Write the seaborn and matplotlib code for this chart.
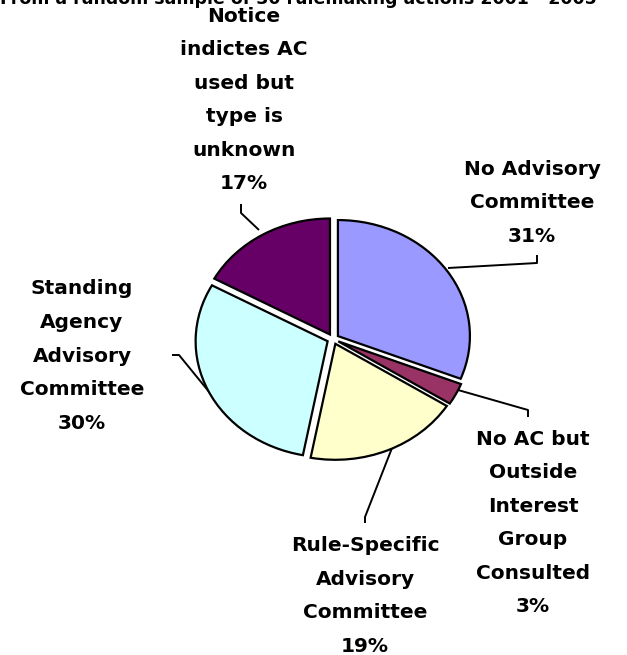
import matplotlib
matplotlib.use("Agg")
import matplotlib.pyplot as plt
import seaborn as sns

sns.set_theme(style="white")
plt.rcParams["font.family"] = ["DejaVu Sans"]

# ---- data ----
categories = [
    "No Advisory\nCommittee",
    "No AC but\nOutside\nInterest\nGroup\nConsulted",
    "Rule-Specific\nAdvisory\nCommittee",
    "Standing\nAgency\nAdvisory\nCommittee",
    "Notice\nindictes AC\nused but\ntype is\nunknown",
]
shares = [31, 3, 19, 30, 17]
colors = ["#9999FF", "#993366", "#FFFFCC", "#CCFFFF", "#660066"]
title = "From a random sample of 30 rulemaking actions 2001 - 2005"

W, H = 627, 655
fig = plt.figure(figsize=(W / 100, H / 100), dpi=100)
fig.patch.set_facecolor("white")

# overlay axes in pixel coordinates for labels / leader lines
ov = fig.add_axes([0, 0, 1, 1])
ov.set_xlim(0, W)
ov.set_ylim(H, 0)
ov.axis("off")

# pie axes (elliptical)
cx, cy, rx, ry = 333, 339, 132, 116
pax = fig.add_axes([(cx - rx) / W, (H - cy - ry) / H, 2 * rx / W, 2 * ry / H])
wedges, _ = pax.pie(
    shares,
    colors=colors,
    startangle=90,
    counterclock=False,
    explode=[0.045] * len(shares),
    radius=1.0,
    wedgeprops=dict(edgecolor="black", linewidth=1.6),
)
pax.set_aspect("auto")
pax.set_xlim(-1, 1)
pax.set_ylim(-1, 1)
pax.axis("off")
for w in wedges:
    w.set_clip_on(False)

# labels
label_pos = [(532, 203), (533, 523), (365, 596), (82, 356), (244, 100)]
tkw = dict(ha="center", va="center", fontsize=14.5, fontweight="bold",
           linespacing=1.97, color="black")
for cat, s, (x, y) in zip(categories, shares, label_pos):
    ov.text(x, y, f"{cat}\n{s}%", **tkw)

# leader lines
leaders = [
    [(448, 268), (537, 263), (537, 255)],
    [(458, 390), (528, 410), (528, 417)],
    [(392, 448), (365, 517), (365, 523)],
    [(210, 393), (179, 355), (172, 355)],
    [(259, 230), (241, 213), (241, 204)],
]
for pts in leaders:
    xs, ys = zip(*pts)
    ov.plot(xs, ys, color="black", lw=1.4, solid_capstyle="butt")

# title (cut off at top of the image, as in the original)
ov.text(298, 4, title, ha="center", va="baseline", fontsize=12.5,
        fontweight="bold", color="black")

fig.savefig("out.png", dpi=100, facecolor="white")
